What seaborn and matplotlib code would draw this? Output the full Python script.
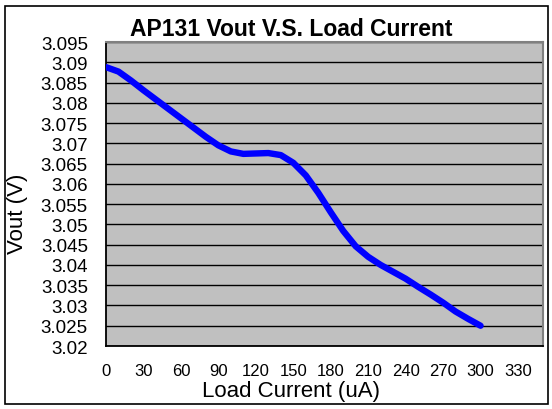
import pandas as pd
import matplotlib.pyplot as plt
import seaborn as sns
from matplotlib.patches import Rectangle

# values
load_current = [0, 10, 20, 30, 40, 50, 60, 70, 80, 90, 100, 110, 120, 130,
                140, 150, 160, 170, 180, 190, 200, 210, 220, 230, 240, 250,
                260, 270, 280, 290, 300]
vout = [3.0888, 3.0877, 3.0855, 3.0831, 3.0808, 3.0785, 3.0762, 3.0739,
        3.0716, 3.0695, 3.0680, 3.0674, 3.0675, 3.0676, 3.0671, 3.0652,
        3.0621, 3.0578, 3.0530, 3.0484, 3.0446, 3.0420, 3.0400, 3.0383,
        3.0366, 3.0346, 3.0327, 3.0307, 3.0285, 3.0267, 3.0250]
x_ticks = list(range(0, 331, 30))
y_ticks = [3.02, 3.025, 3.03, 3.035, 3.04, 3.045, 3.05, 3.055, 3.06,
           3.065, 3.07, 3.075, 3.08, 3.085, 3.09, 3.095]
y_tick_labels = ['3.02', '3.025', '3.03', '3.035', '3.04', '3.045', '3.05',
                 '3.055', '3.06', '3.065', '3.07', '3.075', '3.08', '3.085',
                 '3.09', '3.095']

df = pd.DataFrame({'Load Current (uA)': load_current, 'Vout (V)': vout})

sns.set_style('white')
plt.rcParams['font.family'] = ['Liberation Sans', 'DejaVu Sans']
plt.rcParams['text.color'] = 'black'
plt.rcParams['axes.labelcolor'] = 'black'
plt.rcParams['xtick.color'] = 'black'
plt.rcParams['ytick.color'] = 'black'

fig = plt.figure(figsize=(5.52, 4.10), dpi=100)
ax = fig.add_axes([106 / 552, 63 / 410, 437 / 552, 304 / 410])
ax.set_facecolor('#c0c0c0')

sns.lineplot(data=df, x='Load Current (uA)', y='Vout (V)', ax=ax,
             color='#0000ff', linewidth=4.6, solid_capstyle='round',
             solid_joinstyle='round', zorder=3)

ax.set_xlim(0, 350)
ax.set_ylim(3.02, 3.095)
ax.set_xticks(x_ticks)
ax.set_yticks(y_ticks)
ax.set_yticklabels(y_tick_labels)
ax.tick_params(axis='both', direction='in', length=4, width=1)
ax.tick_params(axis='y', labelsize=13.5, pad=13)
ax.tick_params(axis='x', labelsize=12, pad=12)
ax.yaxis.grid(True, color='black', linewidth=1)
ax.xaxis.grid(False)

for side in ['left', 'bottom']:
    ax.spines[side].set_color('black')
    ax.spines[side].set_linewidth(1.3)
for side in ['top', 'right']:
    ax.spines[side].set_color('#808080')
    ax.spines[side].set_linewidth(1.5)

ax.set_xlabel('Load Current (uA)', fontsize=16)
ax.xaxis.set_label_coords((291 - 106) / 437, (347 - 381) / 304)
ax.set_ylabel('Vout (V)', fontsize=16)
ax.yaxis.set_label_coords((28 - 106) / 437, (347 - 214) / 304)

fig.text(291 / 552, 1 - 36 / 410, 'AP131 Vout V.S. Load Current',
         ha='center', va='baseline', fontsize=16.5, fontweight='bold')

fig.patches.append(Rectangle((5 / 552, 5 / 410), 543 / 552, 398 / 410,
                             transform=fig.transFigure, fill=False,
                             edgecolor='black', linewidth=1.2))

fig.savefig('out.png', dpi=100)
